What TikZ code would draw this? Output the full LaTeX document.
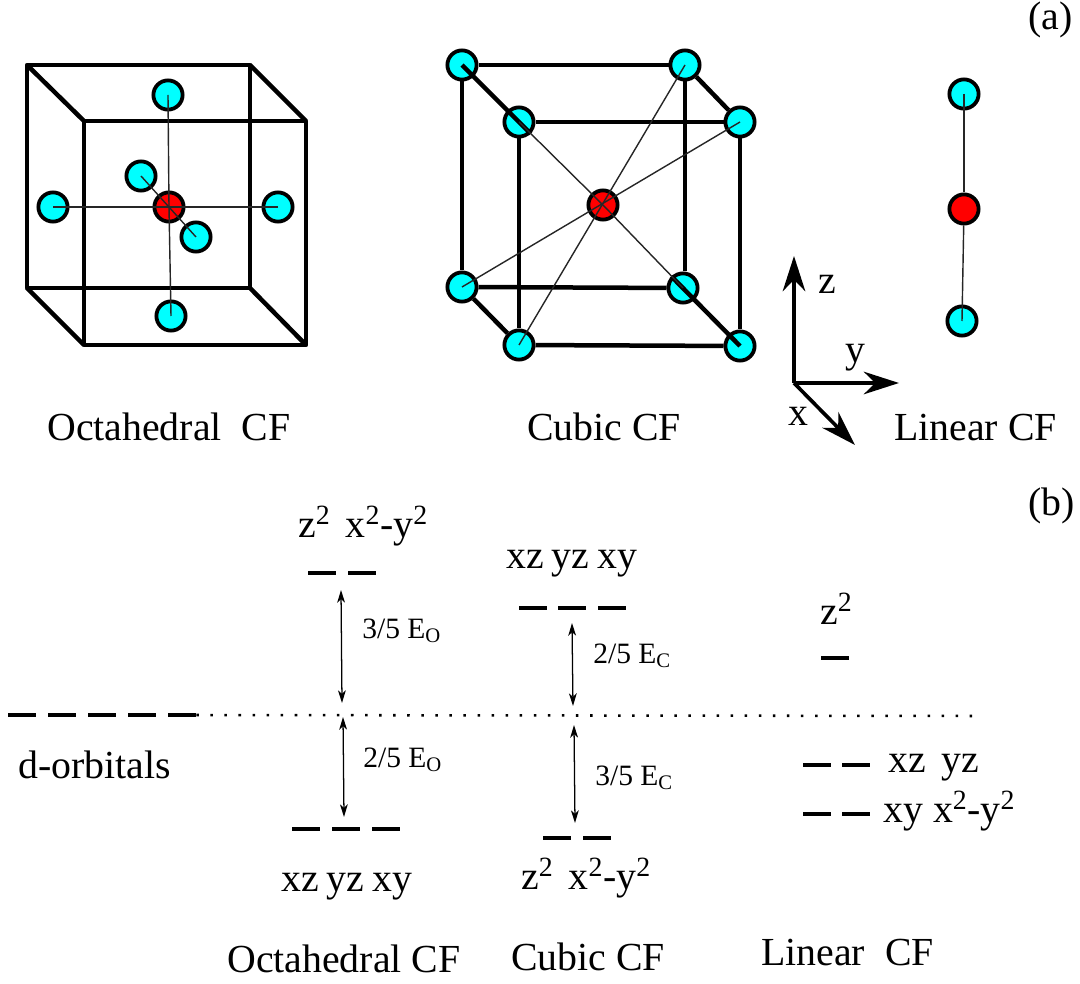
\documentclass[tikz,border=0pt]{standalone}
\usepackage{fontspec}
\setmainfont{Liberation Serif}
\usepackage{tikz}
\usetikzlibrary{arrows.meta}
\definecolor{ioncyan}{RGB}{0,255,255}
\definecolor{ionred}{RGB}{255,0,0}

\begin{document}
\begin{tikzpicture}[
    x=0.025cm, y=-0.025cm,
    atom/.style={circle, draw, line width=2.7pt, minimum size=0.73cm, inner sep=0pt},
    ligand/.style={atom, fill=ioncyan},
    metal/.style={atom, fill=ionred},
    edge/.style={line width=3.2pt, line join=round},
    bond/.style={line width=1pt, black!85},
    axis/.style={-{Stealth[length=25pt, width=16pt, inset=8pt]}, line width=2.6pt},
    gap/.style={{Stealth[length=9pt, width=5.5pt, inset=2.5pt]}-{Stealth[length=9pt, width=5.5pt, inset=2.5pt]}, line width=0.9pt},
    level/.style={rectangle, fill=black, minimum width=0.7cm, minimum height=0.105cm, inner sep=0pt},
    big/.style={anchor=base west, inner sep=0pt, font=\fontsize{28.3}{30}\selectfont},
    small/.style={anchor=base west, inner sep=0pt, font=\fontsize{21}{24}\selectfont}
]
\useasboundingbox (0,0) rectangle (1080,984);

% octahedral cube
\coordinate (oa) at (27,65);
\coordinate (ob) at (250,65);
\coordinate (oc) at (250,288);
\coordinate (od) at (27,288);
\coordinate (oe) at (84,121);
\coordinate (of) at (306,121);
\coordinate (og) at (306,345);
\coordinate (oh) at (84,345);
\draw[edge] (oa) -- (ob) -- (oc) -- (od) -- cycle;
\draw[edge] (oe) -- (of) -- (og) -- (oh) -- cycle;
\draw[edge] (oa) -- (oe);
\draw[edge] (ob) -- (of);
\draw[edge] (oc) -- (og);
\draw[edge] (od) -- (oh);

\node[ligand] (otop) at (168,95) {};
\node[ligand] (oleft) at (53,207) {};
\node[ligand] (oright) at (278,207) {};
\node[ligand] (obot) at (171,316) {};
\node[ligand] (oback) at (141,176) {};
\node[ligand] (ofront) at (196,237) {};
\node[metal] (ometal) at (169,207) {};
\draw[bond] (otop.center) -- (ometal.center);
\draw[bond] (obot.center) -- (ometal.center);
\draw[bond] (oleft.center) -- (oright.center);
\draw[bond] (oback.center) -- (ofront.center);

% cubic cube
\node[ligand] (ca) at (462,65) {};
\node[ligand] (cb) at (685,65) {};
\node[ligand] (cc) at (683,288) {};
\node[ligand] (cd) at (462,287) {};
\node[ligand] (ce) at (519,122) {};
\node[ligand] (cf) at (740,122) {};
\node[ligand] (cg) at (740,346) {};
\node[ligand] (ch) at (519,345) {};
\node[metal] (cmetal) at (603,205) {};
\draw[edge] (ca) -- (cb);
\draw[edge] (cb) -- (cb |- cc.north);
\draw[edge] (cc) -- (cd);
\draw[edge] (cd) -- (ca);
\draw[edge] (ce) -- (cf);
\draw[edge] (cf) -- (cg);
\draw[edge] (cg) -- (ch);
\draw[edge] (ch) -- (ce);
\draw[edge] (cb) -- (cf);
\draw[edge] (cd) -- (ch);
\draw[edge] (ca.center) -- (ce.south east);
\draw[edge] (cc.north west) -- (cg.center);
\draw[bond] (ce.center) -- (cmetal.center);
\draw[bond] (cc.center) -- (cmetal.center);
\draw[bond] (cb.center) -- (ch.center);
\draw[bond] (cf.center) -- (cd.center);

% linear
\node[ligand] (ltop) at (964,94) {};
\node[metal] (lmetal) at (964,209) {};
\node[ligand] (lbot) at (962,321) {};
\draw[bond] (ltop.center) -- (lmetal);
\draw[bond] (lmetal) -- (lbot.center);

% axes
\coordinate (origin) at (794,383);
\coordinate (zend) at (794,256);
\coordinate (yend) at (899,383);
\coordinate (xend) at (855,445);
\draw[axis] (origin) -- (zend);
\draw[axis] (origin) -- (yend);
\draw[axis] (origin) -- (xend);
\node[big] (zlab) at (818,294) {z};
\node[big] (ylab) at (845,363) {y};
\node[big] (xlab) at (788,426) {x};

\node[big] (acap) at (1028,30) {(a)};
\node[big] (bcap) at (1028,515) {(b)};
\node[big] (ocap) at (47,440) {Octahedral\hspace{0.5em}CF};
\node[big] (ccap) at (527,440) {Cubic CF};
\node[big] (lcap) at (894,440) {Linear CF};

% free ion levels
\foreach \i/\xx in {1/22,2/62,3/102,4/142,5/182}
    \node[level] (d\i) at (\xx,715) {};
\coordinate (dotend) at (980,716);
\draw[line width=1.8pt, dash pattern=on 1.8pt off 8.2pt] (d5.east) -- (dotend);
\node[big] (dlab) at (18,778) {d-orbitals};

% octahedral levels
\node[level] (ou1) at (322,573) {};
\node[level] (ou2) at (362,573) {};
\node[level] (ol1) at (306,829) {};
\node[level] (ol2) at (346,829) {};
\node[level] (ol3) at (386,829) {};
\coordinate (ougap) at (341,590);
\coordinate (oumid) at (342,703);
\coordinate (olmid) at (343,717);
\coordinate (olgap) at (344,817);
\draw[gap] (ougap) -- (oumid);
\draw[gap] (olmid) -- (olgap);
\node[big] (oulab) at (298,537) {z\textsuperscript{2}\hspace{0.38em}x\textsuperscript{2}-y\textsuperscript{2}};
\node[big] (ollab) at (281,891) {xz\hspace{0.2em}yz\hspace{0.2em}xy};
\node[small] (ougl) at (362,638) {3/5 E\textsubscript{O}};
\node[small] (olgl) at (363,767) {2/5 E\textsubscript{O}};
\node[big] (obot2) at (227,972) {Octahedral CF};

% cubic levels
\node[level] (cu1) at (533,608) {};
\node[level] (cu2) at (572,608) {};
\node[level] (cu3) at (612,608) {};
\node[level] (cl1) at (557,838) {};
\node[level] (cl2) at (597,838) {};
\coordinate (cugap) at (572,623);
\coordinate (cumid) at (573,706);
\coordinate (clmid) at (574,725);
\coordinate (clgap) at (575,823);
\draw[gap] (cugap) -- (cumid);
\draw[gap] (clmid) -- (clgap);
\node[big] (culab) at (506,568) {xz\hspace{0.2em}yz\hspace{0.2em}xy};
\node[big] (cllab) at (521,889) {z\textsuperscript{2}\hspace{0.38em}x\textsuperscript{2}-y\textsuperscript{2}};
\node[small] (cugl) at (593,663) {2/5 E\textsubscript{C}};
\node[small] (clgl) at (595,785) {3/5 E\textsubscript{C}};
\node[big] (cbot) at (511,970) {Cubic CF};

% linear levels
\node[level] (lz) at (835,658) {};
\node[level] (lm1) at (817,765) {};
\node[level] (lm2) at (856,765) {};
\node[level] (ll1) at (817,814) {};
\node[level] (ll2) at (856,814) {};
\node[big] (lzlab) at (820,624) {z\textsuperscript{2}};
\node[big] (lmlab) at (888,772) {xz\hspace{0.4em}yz};
\node[big] (lllab) at (883,822) {xy\ x\textsuperscript{2}-y\textsuperscript{2}};
\node[big] (lbot2) at (761,965) {Linear\ \ CF};
\end{tikzpicture}
\end{document}
